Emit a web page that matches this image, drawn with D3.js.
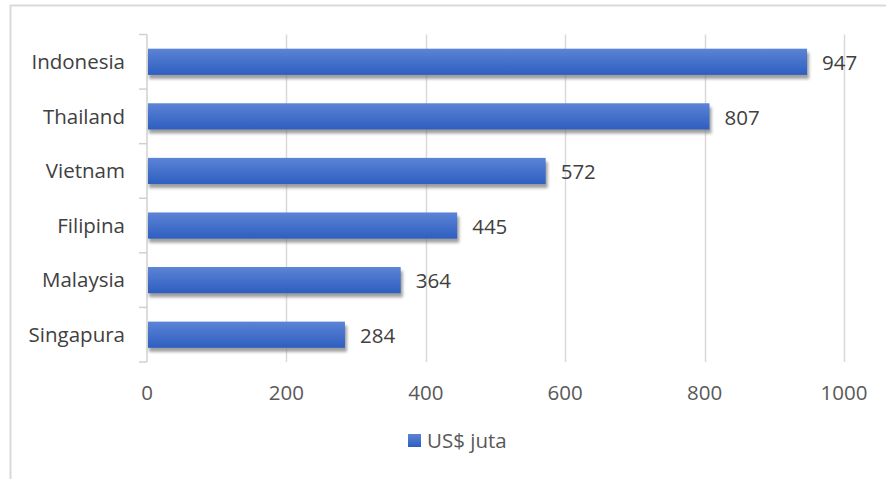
<!DOCTYPE html>
<html>
<head>
<meta charset="utf-8">
<script src="https://cdn.jsdelivr.net/npm/d3@7"></script>
<style>
  body { margin: 0; background: #fff; }
  svg { display: block; font-family: "Open Sans", Lato, sans-serif; }
</style>
</head>
<body>
<svg id="chart" width="886" height="479"></svg>
<script>
"use strict";

// données
var countries = ["Indonesia", "Thailand", "Vietnam", "Filipina", "Malaysia", "Singapura"];
var values = [947, 807, 572, 445, 364, 284];
var ticks = [0, 200, 400, 600, 800, 1000];
var seriesName = "US$ juta";

var svg = d3.select("#chart");
var plotLeft = 147, plotRight = 844, plotTop = 34.5, plotBottom = 362;
var fontSize = 20.5;

// cadre extérieur
svg.append("rect")
  .attr("x", 10.5).attr("y", 5.5)
  .attr("width", 900).attr("height", 500)
  .attr("fill", "none").attr("stroke", "#d9d9d9").attr("stroke-width", 2);

var defs = svg.append("defs");
var grad = defs.append("linearGradient").attr("id", "barGrad")
  .attr("x1", 0).attr("y1", 0).attr("x2", 0).attr("y2", 1);
grad.append("stop").attr("offset", "0%").attr("stop-color", "#5c84d6");
grad.append("stop").attr("offset", "100%").attr("stop-color", "#2e5ec0");
defs.append("filter").attr("id", "blur")
  .attr("x", "-5%").attr("y", "-50%").attr("width", "110%").attr("height", "200%")
  .append("feGaussianBlur").attr("stdDeviation", 1.5);

var x = d3.scaleLinear().domain([0, 1000]).range([plotLeft, plotRight]);
var y = d3.scaleBand().domain(countries).range([plotTop, plotBottom]).paddingInner(0.52).paddingOuter(0.26);

// lignes de quadrillage
svg.append("g").selectAll("line")
  .data(ticks.slice(1))
  .enter().append("line")
  .attr("x1", function (d) { return Math.round(x(d)) + 0.5; })
  .attr("x2", function (d) { return Math.round(x(d)) + 0.5; })
  .attr("y1", plotTop).attr("y2", plotBottom)
  .attr("stroke", "#d9d9d9").attr("stroke-width", 1.5);

// axe vertical avec petites graduations entre catégories
var axisG = svg.append("g").attr("stroke", "#d0d0d0").attr("stroke-width", 1.5);
axisG.append("line").attr("x1", plotLeft).attr("x2", plotLeft).attr("y1", plotTop).attr("y2", plotBottom);
axisG.selectAll(".tk")
  .data(d3.range(countries.length + 1))
  .enter().append("line")
  .attr("x1", plotLeft - 8).attr("x2", plotLeft)
  .attr("y1", function (i) { return plotTop + i * (plotBottom - plotTop) / countries.length; })
  .attr("y2", function (i) { return plotTop + i * (plotBottom - plotTop) / countries.length; });

var rows = svg.append("g").selectAll("g")
  .data(countries)
  .enter().append("g");

// ombre
rows.append("rect")
  .attr("x", x(0) + 2)
  .attr("y", function (d) { return y(d) + 4; })
  .attr("width", function (d, i) { return x(values[i]) - x(0); })
  .attr("height", y.bandwidth())
  .attr("fill", "#7f7f7f").attr("opacity", 0.75)
  .attr("filter", "url(#blur)");

rows.append("rect")
  .attr("x", x(0) + 1)
  .attr("y", function (d) { return y(d); })
  .attr("width", function (d, i) { return x(values[i]) - x(0) - 1; })
  .attr("height", y.bandwidth())
  .attr("fill", "url(#barGrad)");

rows.append("text")
  .attr("x", function (d, i) { return x(values[i]) + 15; })
  .attr("y", function (d) { return y(d) + y.bandwidth() / 2 + 1; })
  .attr("dy", "0.35em")
  .attr("font-size", fontSize).attr("fill", "#404040")
  .text(function (d, i) { return values[i]; });

rows.append("text")
  .attr("x", plotLeft - 22)
  .attr("y", function (d) { return y(d) + y.bandwidth() / 2; })
  .attr("dy", "0.35em")
  .attr("text-anchor", "end")
  .attr("font-size", fontSize).attr("fill", "#404040")
  .text(function (d) { return d; });

// graduations de l'axe horizontal
svg.append("g").selectAll("text")
  .data(ticks)
  .enter().append("text")
  .attr("x", function (d) { return x(d); })
  .attr("y", 393).attr("dy", "0.35em")
  .attr("text-anchor", "middle")
  .attr("font-size", fontSize).attr("fill", "#595959")
  .text(function (d) { return d; });

// légende
var lg = svg.append("g").attr("transform", "translate(408,434)");
lg.append("rect").attr("width", 13).attr("height", 13).attr("fill", "url(#barGrad)");
lg.append("text").attr("x", 19).attr("y", 7).attr("dy", "0.35em")
  .attr("font-size", fontSize).attr("fill", "#595959")
  .text(seriesName);
</script>
</body>
</html>
